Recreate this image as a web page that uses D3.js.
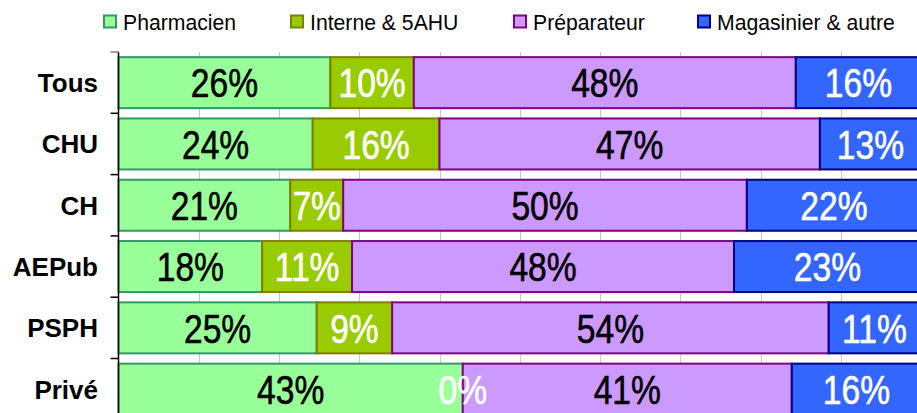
<!DOCTYPE html>
<html>
<head>
<meta charset="utf-8">
<script src="https://cdn.jsdelivr.net/npm/d3@7"></script>
<style>
  html, body { margin: 0; padding: 0; background: #fff; }
  svg { display: block; }
</style>
</head>
<body>
<svg id="chart" width="917" height="413"></svg>
<script>
// ---- data ----
const categories = ["Tous", "CHU", "CH", "AEPub", "PSPH", "Privé"];
const seriesNames = ["Pharmacien", "Interne & 5AHU", "Préparateur", "Magasinier & autre"];
const pharmacien  = [26.4, 24.2, 21.4, 17.9, 24.7, 42.9];
const interne     = [10.4, 15.8, 6.6, 11.2, 9.4, 0];
const preparateur = [47.6, 47.4, 50.3, 47.6, 54.4, 41.0];
const magasinier  = [15.6, 12.6, 21.7, 23.3, 11.4, 16.1];
const xTicks = [0, 10, 20, 30, 40, 50, 60, 70, 80, 90, 100];

// ---- styles ----
const fills   = ["#99FF99", "#99CC00", "#CC99FF", "#3366FF"];
const strokes = ["#339966", "#808000", "#800080", "#000080"];
const labelColors = ["#000", "#fff", "#000", "#fff"];
const keys = ["s0", "s1", "s2", "s3"];

const rows = categories.map((c, i) => ({
  cat: c, s0: pharmacien[i], s1: interne[i], s2: preparateur[i], s3: magasinier[i]
}));

const svg = d3.select("#chart");
const x = d3.scaleLinear().domain([0, 100]).range([118.5, 921]);
const y = d3.scaleBand().domain(categories).range([52, 52 + 6 * 61.3]).paddingInner(0.168).paddingOuter(0.084);

// gridlines
svg.append("g").selectAll("line").data(xTicks.slice(1)).join("line")
  .attr("x1", d => Math.round(x(d)) + 0.5).attr("x2", d => Math.round(x(d)) + 0.5)
  .attr("y1", 52).attr("y2", 413)
  .attr("stroke", "#c8c8c8").attr("stroke-width", 1);

// bars
const stack = d3.stack().keys(keys)(rows);
const groups = svg.append("g").selectAll("g").data(stack).join("g")
  .attr("fill", (d, i) => fills[i]).attr("stroke", (d, i) => strokes[i]);
groups.selectAll("rect").data(d => d).join("rect")
  .attr("x", d => x(d[0]))
  .attr("y", d => y(d.data.cat))
  .attr("width", d => x(d[1]) - x(d[0]))
  .attr("height", y.bandwidth())
  .attr("stroke-width", 2);

// value labels (narrow sans: Liberation Sans compressed horizontally)
const lbl = svg.append("g").attr("font-family", "'Liberation Sans', Arial, sans-serif")
  .attr("font-size", 41).attr("text-anchor", "middle");
stack.forEach((s, i) => {
  lbl.selectAll(null).data(s).join("text")
    .attr("transform", d => `translate(${(x(d[0]) + x(d[1])) / 2},${y(d.data.cat) + y.bandwidth() / 2}) scale(0.82,1)`)
    .attr("dy", "0.36em")
    .attr("fill", labelColors[i])
    .attr("stroke", labelColors[i]).attr("stroke-width", 0.6)
    .text(d => Math.round(d[1] - d[0]) + "%");
});

// y axis
const ax = svg.append("g").attr("transform", "translate(118.5,0)");
ax.append("line").attr("x1", 0).attr("x2", 0).attr("y1", 52).attr("y2", 413).attr("stroke", "#000").attr("stroke-width", 1.5);
const bounds = d3.range(categories.length + 1).map(i => y.range()[0] + i * (y.range()[1] - y.range()[0]) / categories.length);
ax.selectAll("line.tk").data(bounds).join("line").attr("class", "tk")
  .attr("x1", -8).attr("x2", 0).attr("y1", d => d).attr("y2", d => d)
  .attr("stroke", (d, i) => i === 0 ? "#808080" : "#000").attr("stroke-width", 1.5);

// category labels
svg.append("g").selectAll("text").data(categories).join("text")
  .attr("x", 98).attr("y", d => y(d) + y.bandwidth() / 2).attr("dy", "0.36em")
  .attr("text-anchor", "end")
  .attr("font-family", "'Liberation Sans', Arial, sans-serif")
  .attr("font-weight", "bold").attr("font-size", 26)
  .attr("fill", "#000")
  .text(d => d);

// legend
const legendX = [103, 290, 513, 697];
const lg = svg.append("g").selectAll("g").data(seriesNames).join("g")
  .attr("transform", (d, i) => `translate(${legendX[i]},22)`);
lg.append("rect").attr("x", 1).attr("y", -6.5).attr("width", 12).attr("height", 12)
  .attr("fill", (d, i) => fills[i]).attr("stroke", (d, i) => strokes[i]).attr("stroke-width", 2);
lg.append("text").attr("x", 20).attr("y", 0).attr("dy", "0.36em")
  .attr("font-family", "'Liberation Sans', Arial, sans-serif").attr("font-size", 21.2)
  .attr("fill", "#000").text(d => d);
</script>
</body>
</html>
